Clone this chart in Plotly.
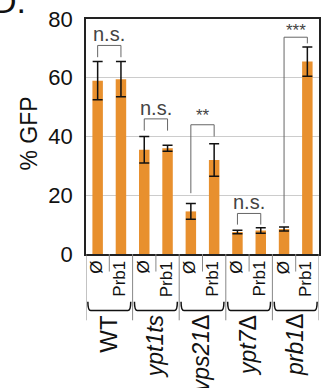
import plotly.graph_objects as go

# ---- data ----
groups = ["WT", "<i>ypt1ts</i>", "<i>vps21</i>Δ", "<i>ypt7</i>Δ", "<i>prb1</i>Δ"]
conditions = ["Ø", "Prb1"]
values = [59, 59.5, 35.5, 36, 14.5, 32, 7.5, 8, 8.5, 65.5]
errors = [6.5, 6, 4.5, 1, 2.7, 5.5, 0.6, 0.9, 0.7, 5]
sig_labels = ["n.s.", "n.s.", "**", "n.s.", "***"]
# bracket: top, left leg end, right leg end, text y (data units)
sig_top = [71, 46, 44, 13.8, 73.8]
sig_left = [67, 42, 20.7, 10, 10.5]
sig_right = [67, 42, 40, 10, 71.7]
sig_text_y = [75, 49.8, 47.0, 17.8, 76.0]
yticks = [0, 20, 40, 60, 80]

W, H = 328, 388
L, R, T, B = 86, 321, 13, 254
FONT = "Liberation Sans, Arial, sans-serif"
ORANGE = "#E8902E"


def py(p):
    return (B - p) / (B - T)


def px(p):
    return (p - L) / (R - L)


n = len(values)
xs = list(range(n))

fig = go.Figure()
fig.add_trace(go.Bar(
    x=xs, y=values, width=0.45, marker=dict(color=ORANGE, line=dict(width=0)),
    error_y=dict(type="data", array=errors, visible=True, color="#111", thickness=1.5, width=5),
    showlegend=False,
))

shapes = []
annotations = []

# significance brackets
for g in range(len(groups)):
    x0, x1 = 2 * g, 2 * g + 1
    path = f"M {x0},{sig_left[g]} L {x0},{sig_top[g]} L {x1},{sig_top[g]} L {x1},{sig_right[g]}"
    shapes.append(dict(type="path", path=path, xref="x", yref="y",
                       line=dict(color="#666", width=1)))
    annotations.append(dict(x=(x0 + x1) / 2, y=sig_text_y[g], xref="x", yref="y",
                            text=sig_labels[g], showarrow=False,
                            font=dict(family=FONT, size=20 if sig_labels[g] == "n.s." else 17,
                                      color="#444")))

# separator lines below axis
for k in range(n + 1):
    xb = k - 0.5
    long = (k % 2 == 0)
    shapes.append(dict(type="line", xref="x", yref="paper", x0=xb, x1=xb,
                       y0=py(B), y1=py(322 if long else 272),
                       line=dict(color="#888", width=1)))

# condition labels
for i in xs:
    annotations.append(dict(x=i - 0.05, y=py(259), xref="x", yref="paper",
                            text=conditions[i % 2], textangle=-90, showarrow=False,
                            xanchor="center", yanchor="top",
                            font=dict(family=FONT, size=17, color="#111")))

# group brackets and names
for g in range(len(groups)):
    xa, xb = 2 * g - 0.42, 2 * g + 1.42
    yb, yt = py(312), py(303)
    path = f"M {xa},{yt} Q {xa},{yb} {xa+0.12},{yb} L {xb-0.12},{yb} Q {xb},{yb} {xb},{yt}"
    shapes.append(dict(type="path", path=path, xref="x", yref="paper",
                       line=dict(color="#111", width=1.5)))
    annotations.append(dict(x=2 * g + 0.45, y=py(314), xref="x", yref="paper",
                            text=groups[g], textangle=-90, showarrow=False,
                            xanchor="center", yanchor="top",
                            font=dict(family=FONT, size=24 if g == 0 else 23, color="#111")))

# y-axis title
annotations.append(dict(x=px(29), y=py(130), xref="paper", yref="paper",
                        text="% GFP", textangle=-90, showarrow=False,
                        xanchor="center", yanchor="middle",
                        font=dict(family=FONT, size=23, color="#111")))
# panel letter
annotations.append(dict(x=px(27), y=py(16), xref="paper", yref="paper",
                        text="D.", showarrow=False, xanchor="right", yanchor="bottom",
                        font=dict(family=FONT, size=34, color="#111")))

fig.update_layout(
    width=W, height=H,
    margin=dict(l=L, r=W - R, t=T, b=H - B),
    plot_bgcolor="white", paper_bgcolor="white",
    shapes=shapes, annotations=annotations,
    font=dict(family=FONT, color="#111"),
)
fig.update_xaxes(range=[-0.5, n - 0.5], showticklabels=False, ticks="",
                 showgrid=False, zeroline=False, showline=True, mirror=True,
                 linecolor="#222", linewidth=1.5)
fig.update_yaxes(range=[0, 80], tickvals=yticks, ticktext=[str(v) for v in yticks],
                 ticks="outside", ticklen=7, tickcolor="rgba(0,0,0,0)",
                 tickfont=dict(family=FONT, size=22, color="#111"),
                 showgrid=True, gridcolor="#cccccc", gridwidth=1, zeroline=False,
                 showline=True, mirror=True, linecolor="#222", linewidth=1.5)

fig.write_html("out.html", config={"displayModeBar": False},
               post_script="document.body.style.margin='0';document.body.style.overflow='hidden';")
